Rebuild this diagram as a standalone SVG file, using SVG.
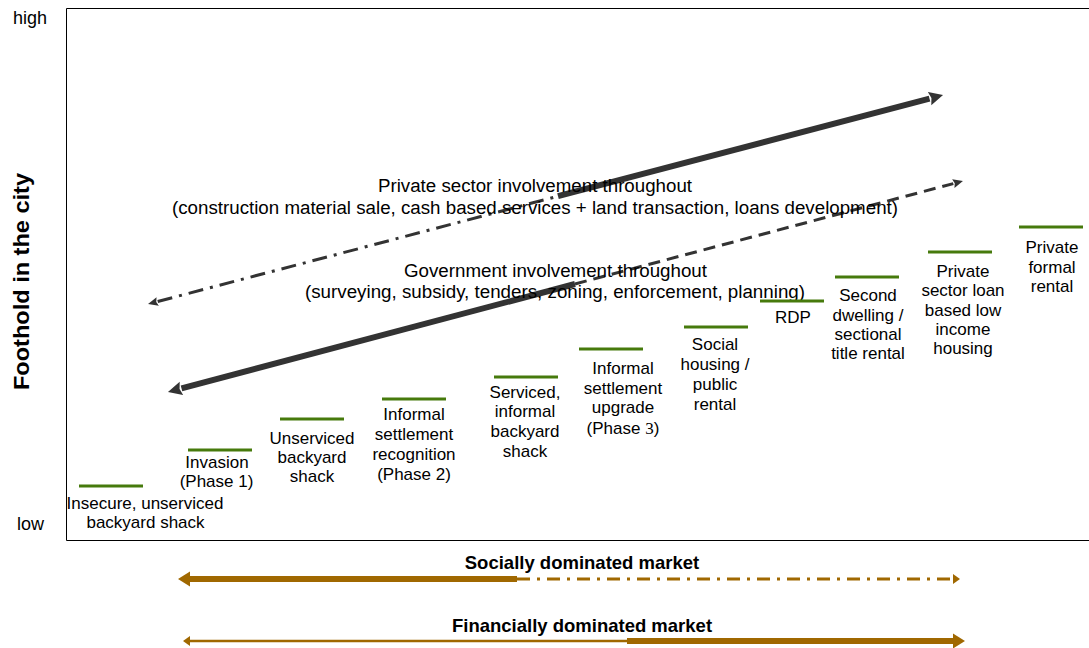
<svg xmlns="http://www.w3.org/2000/svg" width="1089" height="648" viewBox="0 0 1089 648">
<style>
text{font-family:"Liberation Sans",Arial,sans-serif;fill:#000}
.lbl{font-size:17px;text-anchor:middle}
.mid{font-size:18px;text-anchor:middle}
.ax{font-size:18px}
.mk{font-size:18.5px;font-weight:bold;text-anchor:middle}
.bar{stroke:#467a0c;stroke-width:3;fill:none}
.g{stroke:#333;fill:none;stroke-linecap:butt}
.b{stroke:#a06800;fill:none}
</style>
<defs>
<marker id="gBig" markerUnits="userSpaceOnUse" viewBox="0 0 14 16" markerWidth="14" markerHeight="16" refX="0" refY="8" orient="auto-start-reverse"><path d="M0,1 L14,8 L0,15 L2,8 z" fill="#333"/></marker>
<marker id="gSmall" markerUnits="userSpaceOnUse" viewBox="0 0 10 10" markerWidth="10" markerHeight="10" refX="0" refY="5" orient="auto-start-reverse"><path d="M0,0.5 L10,5 L0,9.5 L1.5,5 z" fill="#333"/></marker>
<marker id="bBig" markerUnits="userSpaceOnUse" viewBox="0 0 12 16" markerWidth="12" markerHeight="16" refX="0" refY="8" orient="auto-start-reverse"><path d="M0,0.5 L12,8 L0,15.5 z" fill="#a06800"/></marker>
<marker id="bSmall" markerUnits="userSpaceOnUse" viewBox="0 0 7 10" markerWidth="7" markerHeight="10" refX="0" refY="5" orient="auto-start-reverse"><path d="M0,0 L7,5 L0,10 z" fill="#a06800"/></marker>
</defs>

<g id="frame">
<path d="M1089,8.5 H66.5 V540.5 H1089" fill="none" stroke="#000" stroke-width="1"/>
<text class="ax" x="13" y="24">high</text>
<text class="ax" x="17" y="530">low</text>
<text x="29" y="281.5" transform="rotate(-90 29 281.5)" style="font-size:22px;font-weight:bold;text-anchor:middle" textLength="217" lengthAdjust="spacingAndGlyphs">Foothold in the city</text>
</g>

<g id="connectors">
<path class="g" d="M157.7,301.5 L558,196.2" stroke-width="3" stroke-dasharray="15 7 3 7" marker-start="url(#gSmall)"/>
<path class="g" d="M558,196.2 L929.5,98.6" stroke-width="6" marker-end="url(#gBig)"/>
<path class="g" d="M181.5,388.4 L575,284" stroke-width="6" marker-start="url(#gBig)"/>
<path class="g" d="M575,284 L953.3,183.6" stroke-width="3" stroke-dasharray="12 7" marker-end="url(#gSmall)"/>
<path class="b" d="M190,579 H517" stroke-width="6" marker-start="url(#bBig)"/>
<path class="b" d="M517,579 H953" stroke-width="3" stroke-dasharray="13 7 3 7" marker-end="url(#bSmall)"/>
<path class="b" d="M190,641 H627" stroke-width="2.7" marker-start="url(#bSmall)"/>
<path class="b" d="M627,641 H953" stroke-width="6" marker-end="url(#bBig)"/>
</g>

<g id="private-sector">
<text class="mid" x="535" y="192" textLength="314" lengthAdjust="spacingAndGlyphs">Private sector involvement throughout</text>
<text class="mid" x="535" y="214" textLength="726" lengthAdjust="spacingAndGlyphs">(construction material sale, cash based services + land transaction, loans development)</text>
</g>
<g id="government">
<text class="mid" x="555.5" y="277" textLength="303" lengthAdjust="spacingAndGlyphs">Government involvement throughout</text>
<text class="mid" x="555" y="298" textLength="500" lengthAdjust="spacingAndGlyphs">(surveying, subsidy, tenders, zoning, enforcement, planning)</text>
</g>

<g id="n1"><path class="bar" d="M79,486 H143"/>
<text class="lbl" x="145" y="509">Insecure, unserviced</text><text class="lbl" x="145.5" y="528">backyard shack</text></g>
<g id="n2"><path class="bar" d="M188,450 H252"/>
<text class="lbl" x="217" y="468">Invasion</text><text class="lbl" x="216.5" y="487">(Phase 1)</text></g>
<g id="n3"><path class="bar" d="M280,419 H344"/>
<text class="lbl" x="312" y="444">Unserviced</text><text class="lbl" x="312" y="463">backyard</text><text class="lbl" x="312" y="482">shack</text></g>
<g id="n4"><path class="bar" d="M382,399 H446"/>
<text class="lbl" x="414" y="420">Informal</text><text class="lbl" x="414" y="440">settlement</text><text class="lbl" x="414" y="460">recognition</text><text class="lbl" x="414" y="480">(Phase 2)</text></g>
<g id="n5"><path class="bar" d="M494,377 H558"/>
<text class="lbl" x="525" y="398">Serviced,</text><text class="lbl" x="525" y="417">informal</text><text class="lbl" x="525" y="437">backyard</text><text class="lbl" x="525" y="457">shack</text></g>
<g id="n6"><path class="bar" d="M579,349 H643"/>
<text class="lbl" x="623" y="374">Informal</text><text class="lbl" x="623" y="394">settlement</text><text class="lbl" x="623" y="413">upgrade</text><text class="lbl" x="623" y="434">(Phase <tspan style="font-family:'Liberation Serif',serif">3</tspan>)</text></g>
<g id="n7"><path class="bar" d="M684,327 H748"/>
<text class="lbl" x="715" y="350">Social</text><text class="lbl" x="715" y="370">housing /</text><text class="lbl" x="715" y="390">public</text><text class="lbl" x="715" y="410">rental</text></g>
<g id="n8"><path class="bar" d="M760,301 H824"/>
<text class="lbl" x="793" y="323">RDP</text></g>
<g id="n9"><path class="bar" d="M835,277 H899"/>
<text class="lbl" x="868" y="301">Second</text><text class="lbl" x="868" y="321">dwelling /</text><text class="lbl" x="868" y="340">sectional</text><text class="lbl" x="868" y="359">title rental</text></g>
<g id="n10"><path class="bar" d="M928,252 H992"/>
<text class="lbl" x="963" y="277">Private</text><text class="lbl" x="963" y="296">sector loan</text><text class="lbl" x="963" y="316">based low</text><text class="lbl" x="963" y="335">income</text><text class="lbl" x="963" y="354">housing</text></g>
<g id="n11"><path class="bar" d="M1019,227 H1083"/>
<text class="lbl" x="1052" y="253">Private</text><text class="lbl" x="1052" y="273">formal</text><text class="lbl" x="1052" y="292">rental</text></g>

<g id="social-market"><text class="mk" x="582" y="569">Socially dominated market</text></g>
<g id="financial-market"><text class="mk" x="582" y="632">Financially dominated market</text></g>
</svg>
